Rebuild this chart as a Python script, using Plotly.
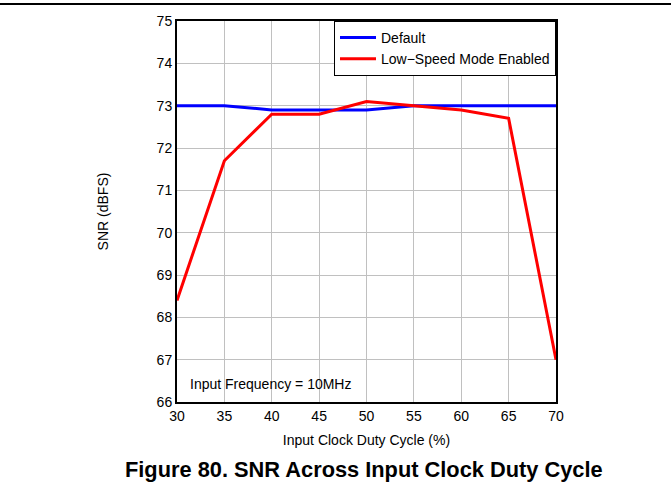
import plotly.graph_objects as go

# Duty cycle sweep (%) and measured SNR (dBFS)
duty_cycle = [30, 35, 40, 45, 50, 55, 60, 65, 70]
snr_default = [73.0, 73.0, 72.9, 72.9, 72.9, 73.0, 73.0, 73.0, 73.0]
snr_low_speed = [68.4, 71.7, 72.8, 72.8, 73.1, 73.0, 72.9, 72.7, 67.0]

x_ticks = [30, 35, 40, 45, 50, 55, 60, 65, 70]
y_ticks = [66, 67, 68, 69, 70, 71, 72, 73, 74, 75]

FONT = "Liberation Sans, Arial, sans-serif"

fig = go.Figure()
fig.add_trace(go.Scatter(x=duty_cycle, y=snr_default, mode="lines", name="Default",
                         line=dict(color="#0000ff", width=3)))
fig.add_trace(go.Scatter(x=duty_cycle, y=snr_low_speed, mode="lines", name="Low\u2212Speed Mode Enabled",
                         line=dict(color="#ff0000", width=3)))

L, R, T, B = 177, 115, 21, 95
W, H = 671, 497
pw, ph = W - L - R, H - T - B

fig.update_layout(
    width=W, height=H,
    margin=dict(l=L, r=R, t=T, b=B),
    paper_bgcolor="white", plot_bgcolor="white",
    font=dict(family=FONT, size=14, color="black"),
    showlegend=True,
    legend=dict(x=(334 - L) / pw, y=1, xanchor="left", yanchor="top",
                bgcolor="white", bordercolor="black", borderwidth=1,
                font=dict(size=14), tracegroupgap=0, itemwidth=36,
                traceorder="normal"),
    xaxis=dict(range=[30, 70], tickvals=x_ticks, showgrid=True, gridcolor="#c0c0c0",
               gridwidth=1, zeroline=False, showline=True, linecolor="black", linewidth=2,
               mirror=True, ticks="", tickfont=dict(size=14),
               title=dict(text="Input Clock Duty Cycle (%)", font=dict(size=14), standoff=12)),
    yaxis=dict(range=[66, 75], tickvals=y_ticks, showgrid=True, gridcolor="#c0c0c0",
               gridwidth=1, zeroline=False, showline=True, linecolor="black", linewidth=2,
               mirror=True, ticks="", tickfont=dict(size=14),
               title=dict(text="SNR (dBFS)", font=dict(size=14), standoff=45)),
    annotations=[
        dict(text="Input Frequency = 10MHz", xref="paper", yref="paper",
             x=(188 - L) / pw, y=(402 - 384) / ph, xanchor="left", yanchor="middle",
             showarrow=False, font=dict(size=14)),
        dict(text="<b>Figure 80. SNR Across Input Clock Duty Cycle</b>", xref="paper", yref="paper",
             x=(364 - L) / pw, y=(402 - 469) / ph, xanchor="center", yanchor="middle",
             showarrow=False, font=dict(size=21.8)),
    ],
    shapes=[
        dict(type="line", xref="paper", yref="paper",
             x0=-L / pw, x1=(W - L) / pw, y0=(402 - 4) / ph, y1=(402 - 4) / ph,
             line=dict(color="black", width=2)),
    ],
)

fig.write_html("out.html")
